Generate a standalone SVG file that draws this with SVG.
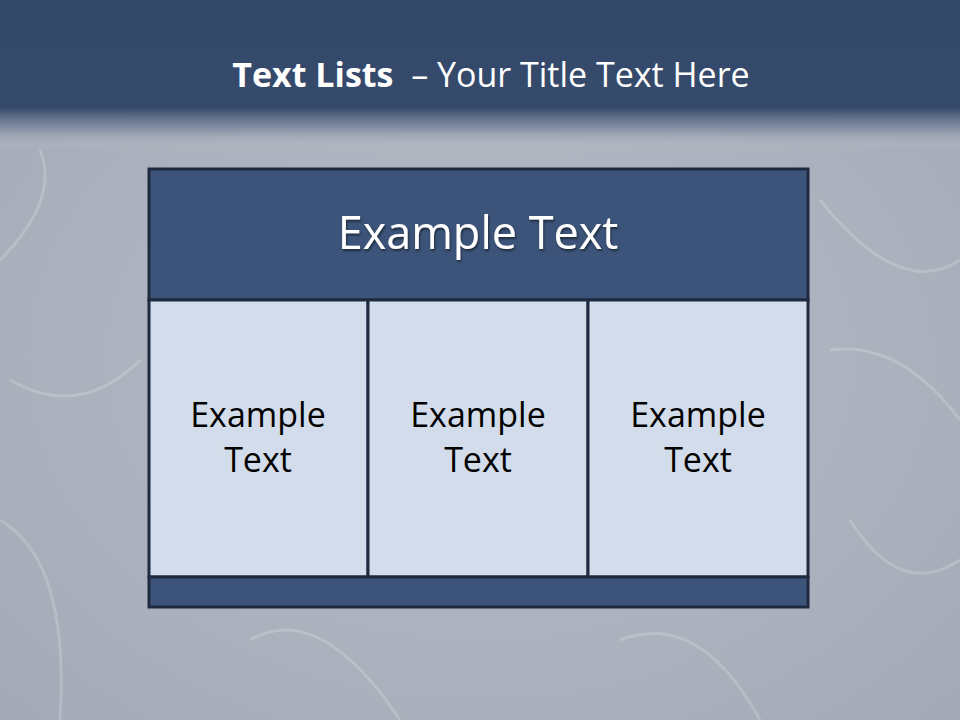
<svg xmlns="http://www.w3.org/2000/svg" width="960" height="720" viewBox="0 0 960 720">
<defs>
<style>
.t{font-family:"Open Sans","Liberation Sans",sans-serif;fill:#ffffff}
.c{font-family:"Open Sans","Liberation Sans",sans-serif;fill:#000000;font-size:34px;text-anchor:middle}
.cell{fill:#d3dcea;stroke:#1f2a40;stroke-width:3}
.bar{fill:#3c5479;stroke:#1f2a40;stroke-width:3}
</style>
<linearGradient id="top" x1="0" y1="0" x2="0" y2="1">
<stop offset="0" stop-color="#33486a"/>
<stop offset="0.72" stop-color="#364b6c"/>
<stop offset="0.86" stop-color="#7f8aa0" stop-opacity="0.8"/>
<stop offset="1" stop-color="#c4c8d0" stop-opacity="0"/>
</linearGradient>
<radialGradient id="bg" cx="0.5" cy="0.5" r="0.75">
<stop offset="0" stop-color="#b7bcc6"/>
<stop offset="1" stop-color="#a2a9b6"/>
</radialGradient>
<filter id="sh" x="-10%" y="-10%" width="120%" height="130%">
<feDropShadow dx="1" dy="2" stdDeviation="1" flood-color="#000" flood-opacity="0.5"/>
</filter>
</defs>
<rect x="0" y="0" width="960" height="720" fill="url(#bg)"/>
<g opacity="0.18" fill="none" stroke="#ffffff" stroke-width="3">
<path d="M0 260 Q60 200 40 150"/><path d="M820 200 Q900 300 960 260"/><path d="M830 350 Q900 340 960 420"/>
<path d="M0 520 Q70 560 60 720"/><path d="M250 640 Q320 600 400 720"/><path d="M620 640 Q700 610 760 720"/>
<path d="M850 520 Q900 600 960 560"/><path d="M10 380 Q80 420 140 360"/>
</g>
<rect x="0" y="0" width="960" height="150" fill="url(#top)"/>
<g id="title">
<text class="t" x="491" y="87" font-size="34" text-anchor="middle" xml:space="preserve"><tspan font-weight="bold">Text Lists</tspan>  – Your Title Text Here</text>
</g>
<g id="header">
<rect class="bar" x="149" y="169" width="659" height="131"/>
<text class="t" x="478" y="249" font-size="45" text-anchor="middle" filter="url(#sh)">Example Text</text>
</g>
<g id="cell1">
<rect class="cell" x="149" y="300" width="219" height="277"/>
<text class="c" x="258" y="427">Example</text><text class="c" x="258" y="472">Text</text>
</g>
<g id="cell2">
<rect class="cell" x="368" y="300" width="220" height="277"/>
<text class="c" x="478" y="427">Example</text><text class="c" x="478" y="472">Text</text>
</g>
<g id="cell3">
<rect class="cell" x="588" y="300" width="220" height="277"/>
<text class="c" x="698" y="427">Example</text><text class="c" x="698" y="472">Text</text>
</g>
<g id="footer">
<rect class="bar" x="149" y="577" width="659" height="30"/>
</g>
<g id="connectors"/>
</svg>
